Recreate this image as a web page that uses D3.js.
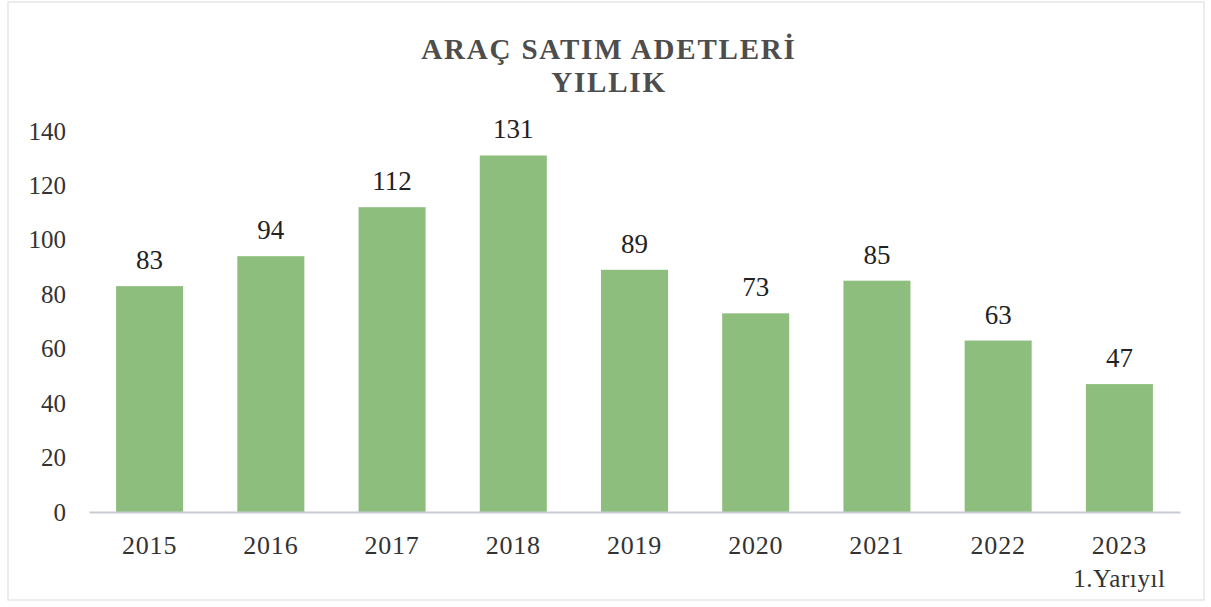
<!DOCTYPE html>
<html>
<head>
<meta charset="utf-8">
<script src="https://cdn.jsdelivr.net/npm/d3@7"></script>
<style>
  body { margin: 0; background: #fff; }
  svg { display: block; font-family: "Liberation Serif", "DejaVu Serif", serif; }
</style>
</head>
<body>
<svg id="svg" width="1211" height="607"></svg>
<script>
'use strict';

const years = ['2015', '2016', '2017', '2018', '2019', '2020', '2021', '2022', '2023'];
const subLabels = ['', '', '', '', '', '', '', '', '1.Yarıyıl'];
const sales = [83, 94, 112, 131, 89, 73, 85, 63, 47];
const yTicks = [0, 20, 40, 60, 80, 100, 120, 140];
const titleLines = ['ARAÇ SATIM ADETLERİ', 'YILLIK'];

const BAR_COLOR = '#8ebe7d';
const svg = d3.select('#svg');

// faint frame of the scanned page
svg.append('rect')
  .attr('x', 8).attr('y', 2)
  .attr('width', 1196).attr('height', 598)
  .attr('fill', 'none')
  .attr('stroke', '#e6e6e6')
  .attr('stroke-width', 1.5);

const x = d3.scaleBand()
  .domain(years)
  .range([89, 1180])
  .paddingInner(0.447)
  .paddingOuter(0.2235);

const y = d3.scaleLinear()
  .domain([0, 140])
  .range([512, 131]);

// Title
svg.append('g')
  .selectAll('text')
  .data(titleLines)
  .join('text')
  .attr('x', 609)
  .attr('y', (d, i) => 59 + i * 33)
  .attr('text-anchor', 'middle')
  .attr('font-size', 29)
  .attr('font-weight', 'bold')
  .attr('fill', '#4d4d4d')
  .attr('letter-spacing', 1.8)
  .text(d => d);

// Y axis labels
const yAxis = d3.axisLeft(y).tickValues(yTicks).tickSize(0).tickPadding(0);
svg.append('g')
  .attr('transform', 'translate(66,0)')
  .call(yAxis)
  .call(g => g.select('.domain').remove())
  .call(g => g.selectAll('text')
    .attr('font-size', 25)
    .attr('font-family', '"Liberation Serif", serif')
    .attr('fill', '#333'));

// Bars
svg.append('g')
  .selectAll('rect')
  .data(sales)
  .join('rect')
  .attr('x', (d, i) => x(years[i]))
  .attr('y', d => y(d))
  .attr('width', x.bandwidth())
  .attr('height', d => y(0) - y(d))
  .attr('fill', BAR_COLOR);

// Value labels
svg.append('g')
  .selectAll('text')
  .data(sales)
  .join('text')
  .attr('x', (d, i) => x(years[i]) + x.bandwidth() / 2)
  .attr('y', d => y(d) - 17)
  .attr('text-anchor', 'middle')
  .attr('font-size', 27)
  .attr('fill', '#222')
  .text(d => d);

// X axis
const xAxis = d3.axisBottom(x).tickSize(0).tickPadding(24);
svg.append('g')
  .attr('transform', `translate(0,${y(0)})`)
  .call(xAxis)
  .call(g => g.select('.domain').attr('stroke', '#c8ccd4').attr('stroke-width', 2))
  .call(g => g.selectAll('text')
    .attr('font-size', 26)
    .attr('letter-spacing', 0.8)
    .attr('font-family', '"Liberation Serif", serif')
    .attr('fill', '#333'));

// second line under the last category
svg.append('g')
  .selectAll('text')
  .data(subLabels)
  .join('text')
  .attr('x', (d, i) => x(years[i]) + x.bandwidth() / 2)
  .attr('y', 587)
  .attr('text-anchor', 'middle')
  .attr('font-size', 25)
  .attr('letter-spacing', 0.6)
  .attr('fill', '#333')
  .text(d => d);
</script>
</body>
</html>
